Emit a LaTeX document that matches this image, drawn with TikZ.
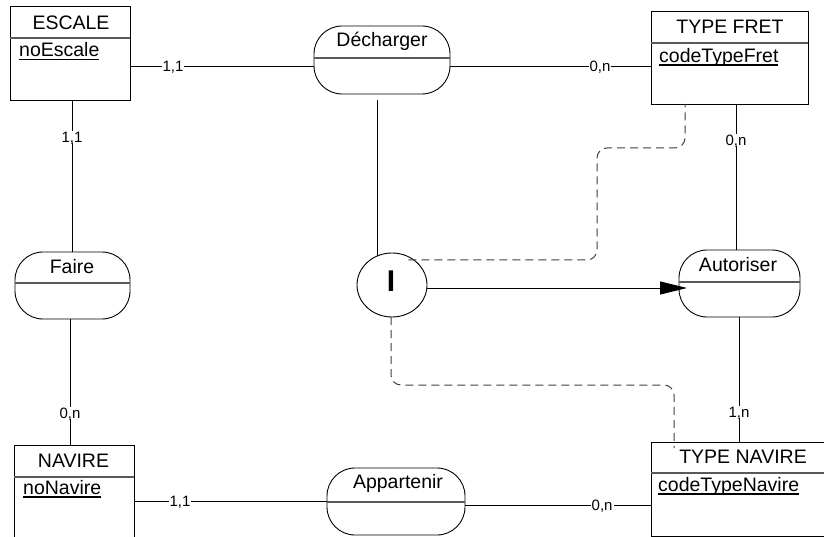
\documentclass[tikz,border=0pt]{standalone}
\usepackage{fontspec}
\setmainfont{Liberation Sans}
\usetikzlibrary{arrows.meta,shapes.geometric}
\newcommand\attrul[1]{\setbox0\hbox{#1}\rlap{\rule[-3.5pt]{\wd0}{1.8pt}}\box0}
\begin{document}
\begin{tikzpicture}[x=1pt,y=-1pt,
  ent/.style={draw=black, line width=0.9pt, inner sep=0pt, outer sep=0pt},
  assoc/.style={draw=black, line width=0.9pt, rounded corners=28pt, inner sep=0pt, outer sep=0pt},
  divline/.style={draw=black!65, line width=1.1pt},
  title/.style={font=\fontsize{19.5}{22}\selectfont, anchor=base, inner sep=0pt},
  attr/.style={font=\fontsize{19.5}{22}\selectfont, anchor=base west, inner sep=0pt},
  link/.style={draw=black, line width=0.9pt},
  card/.style={font=\fontsize{15}{17}\selectfont, fill=white, inner sep=1pt, text height=10.5pt, text depth=0pt},
  ctr/.style={draw=black!75, line width=1pt, dash pattern=on 8pt off 5pt, rounded corners=10pt},
]
\useasboundingbox (0,0) rectangle (824,537);
\fill[white] (0,0) rectangle (824,537);
\begin{scope}
\clip (0,0) rectangle (824,537);
% entities
\node[ent, minimum width=120pt, minimum height=94pt] (escale) at (70,53) {};
\node[ent, minimum width=157pt, minimum height=93pt] (typefret) at (729.5,57.5) {};
\node[ent, minimum width=120pt, minimum height=115pt] (navire) at (74,502.5) {};
\node[ent, minimum width=184pt, minimum height=94pt] (typenavire) at (743,489) {};
\draw[divline] (escale.west |- 0,38) -- (escale.east |- 0,38);
\draw[divline] (typefret.west |- 0,43) -- (typefret.east |- 0,43);
\draw[divline] (navire.west |- 0,477) -- (navire.east |- 0,477);
\draw[divline] (typenavire.west |- 0,473) -- (typenavire.east |- 0,473);
\node[title] (tescale) at (71,30) {ESCALE};
\node[title] (ttypefret) at (730,34) {TYPE FRET};
\node[title] (tnavire) at (73.5,467) {NAVIRE};
\node[title] (ttypenavire) at (743,463) {TYPE NAVIRE};
\node[attr] (aescale) at (19,57) {\attrul{noEscale}};
\node[attr] (atypefret) at (659,62.5) {\attrul{codeTypeFret}};
\node[attr] (anavire) at (23,494) {\attrul{noNavire}};
\node[attr] (atypenavire) at (658,491) {\attrul{codeTypeNavire}};
% associations
\node[assoc, minimum width=136pt, minimum height=68pt] (dech) at (382,60) {};
\node[assoc, minimum width=115pt, minimum height=67pt] (faire) at (72.5,285.5) {};
\node[assoc, minimum width=121pt, minimum height=67pt] (auto) at (739.5,283.5) {};
\node[assoc, minimum width=138pt, minimum height=67pt] (appart) at (396,501.5) {};
\draw[divline] (dech.west |- 0,58) -- (dech.east |- 0,58);
\draw[divline] (faire.west |- 0,283) -- (faire.east |- 0,283);
\draw[divline] (auto.west |- 0,282) -- (auto.east |- 0,282);
\draw[divline] (appart.west |- 0,502) -- (appart.east |- 0,502);
\node[title] (tdech) at (382,47) {Décharger};
\node[title] (tfaire) at (72,273) {Faire};
\node[title] (tauto) at (738,272) {Autoriser};
\node[title] (tappart) at (398,488.5) {Appartenir};
% constraint I
\node[ellipse, draw=black, line width=0.9pt, minimum width=70pt, minimum height=64pt, inner sep=0pt, outer sep=0pt] (I) at (392,285) {};
\node[font=\fontsize{30}{30}\selectfont\bfseries, inner sep=0pt, text depth=0pt] (tI) at (391,281) {I};
% links
\draw[link] (escale.east |- 0,66) -- node[card, pos=0.234] {1,1} (dech.west |- 0,66);
\draw[link] (dech.east |- 0,66) -- node[card, pos=0.746] {0,n} (typefret.west |- 0,66);
\draw[link] (escale.south -| 72,0) -- node[card, pos=0.243] {1,1} (faire.north -| 72,0);
\draw[link] (faire.south -| 70,0) -- node[card, pos=0.746] {0,n} (navire.north -| 70,0);
\draw[link] (navire.east |- 0,501) -- node[card, pos=0.238] {1,1} (appart.west |- 0,501);
\draw[link] (appart.east |- 0,505) -- node[card, pos=0.737] {0,n} (typenavire.west |- 0,505);
\draw[link] (typefret.south -| 736,0) -- node[card, pos=0.247] {0,n} (auto.north -| 736,0);
\draw[link] (auto.south -| 739,0) -- node[card, pos=0.76] {1,n} (typenavire.north -| 739,0);
\draw[link] ([yshift=-6pt]dech.south -| I.117) -- (I.117);
\draw[link, -{Triangle[length=27pt, width=13pt]}] (I.east |- 0,288) -- ([xshift=8pt]auto.west |- 0,288);
% dashed constraint links
\draw[ctr] (I.60 |- 0,260) -- (597,260) -- (597,148) -- (685,148) -- (typefret.south -| 685,0);
\draw[ctr] (I.south -| 391,0) -- (391,385) -- (674,385) -- ([yshift=-6pt]typenavire.north -| 674,0);
\end{scope}
\end{tikzpicture}
\end{document}
